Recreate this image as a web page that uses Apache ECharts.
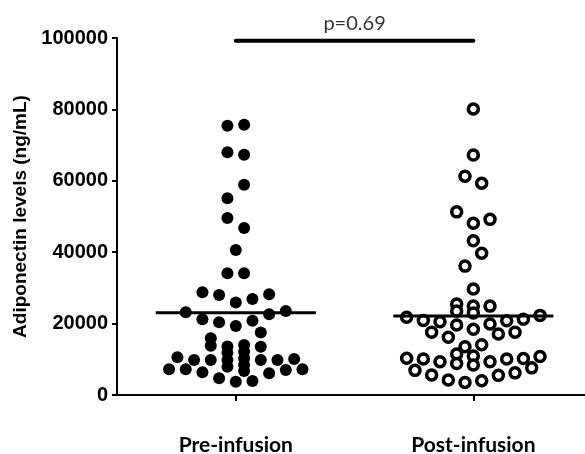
<!DOCTYPE html>
<html lang="en">
<head>
<meta charset="UTF-8">
<title>Adiponectin</title>
<script src="https://cdn.jsdelivr.net/npm/echarts@6/dist/echarts.min.js"></script>
<style>
  html, body { margin: 0; padding: 0; background: #fff; }
  #main { width: 585px; height: 454px; }
</style>
</head>
<body>
<div id="main"></div>
<script>
// groups on the x axis (1 = Pre, 2 = Post)
var categories = ['Pre-infusion', 'Post-infusion'];

// adiponectin levels, ng/mL
var preValues = [75400, 75700, 68000, 67300, 58900, 55100, 49600, 46800, 40600, 34100, 34100,
    28800, 28000, 25900, 26900, 28200, 23200, 22600, 23500, 21200, 20400, 19300, 20800,
    17500, 15900, 13800, 13600, 11800, 9800, 7900, 14000, 12100, 10300, 8400, 6700,
    13500, 9800, 9800, 9800, 10600, 9800, 10100, 7200, 7200, 6400, 6100, 7000, 7200,
    4700, 3700, 3900];
// beeswarm lane of each dot (half dot steps left/right of the group centre)
var preLanes = [-1, 1, -1, 1, 1, -1, -1, 1, 0, -1, 1,
    -4, -2, 0, 2, 4, -6, 4, 6, -4, -2, 0, 2,
    3, -3, -3, -1, -1, -1, -1, 1, 1, 1, 1, 1,
    3, 3, -3, -5, -7, 5, 7, -8, -6, -4, 4, 6, 8,
    -2, 0, 2];

var postValues = [80100, 67200, 61300, 59300, 51300, 48100, 49200, 43200, 39700, 36100, 29700,
    25500, 23500, 24900, 23000, 24900, 21800, 20900, 20500, 19600, 18400, 19900, 20800,
    21200, 22300, 17600, 16200, 17100, 17600, 13500, 14100, 11500, 10900,
    10300, 10100, 9300, 8800, 8400, 9300, 10100, 10200, 10800,
    6900, 5600, 4200, 3500, 4000, 5500, 6200, 7600];
var postLanes = [0, 0, -1, 1, -2, 0, 2, 0, 1, -1, 0,
    -2, -2, 0, 0, 2, -8, -6, -4, -2, 0, 2, 4,
    6, 8, -5, -3, 3, 5, -1, 1, -2, 0,
    -8, -6, -4, -2, 0, 2, 4, 6, 8,
    -7, -5, -3, -1, 1, 3, 5, 7];

var groupMeans = [23050, 22100];
var pLabel = 'p=0.69';
var pBarLevel = 99200;

var laneStep = 0.0351;
var meanHalfWidth = 0.337;

function swarm(center, values, lanes) {
    return values.map(function (v, i) {
        return [center + lanes[i] * laneStep, v];
    });
}

var myChart = echarts.init(document.getElementById('main'));

var option = {
    animation: false,
    grid: { left: 117, right: 0, top: 38, bottom: 59, outerBoundsMode: 'none' },
    xAxis: {
        type: 'value',
        min: 0.5,
        max: 2.47,
        splitLine: { show: false },
        axisLine: { lineStyle: { color: '#000', width: 2 } },
        axisTick: { show: true, length: 6, customValues: [1, 2], lineStyle: { color: '#000', width: 2 } },
        axisLabel: {
            customValues: [1, 2],
            margin: 40,
            color: '#000',
            fontFamily: 'Lato',
            fontWeight: 'bold',
            fontSize: 21,
            formatter: function (v) { return categories[Math.round(v) - 1]; }
        }
    },
    yAxis: {
        type: 'value',
        min: 0,
        max: 100000,
        interval: 20000,
        name: 'Adiponectin levels (ng/mL)',
        nameLocation: 'middle',
        nameGap: 86,
        nameTextStyle: { color: '#000', fontFamily: 'Liberation Sans', fontWeight: 'bold', fontSize: 19 },
        splitLine: { show: false },
        axisLine: { show: true, lineStyle: { color: '#000', width: 2 } },
        axisTick: { show: true, length: 5, lineStyle: { color: '#000', width: 2 } },
        axisLabel: {
            margin: 9,
            color: '#000',
            fontFamily: 'Liberation Sans',
            fontWeight: 'bold',
            fontSize: 20,
            formatter: function (v) { return String(v); }
        }
    },
    series: [
        {
            type: 'scatter',
            symbol: 'circle',
            symbolSize: 12,
            itemStyle: { color: '#000', opacity: 1 },
            data: swarm(1, preValues, preLanes)
        },
        {
            type: 'scatter',
            symbol: 'circle',
            symbolSize: 10,
            itemStyle: { color: '#fff', borderColor: '#000', borderWidth: 3.5, opacity: 1 },
            data: swarm(2, postValues, postLanes)
        },
        {
            type: 'line',
            symbol: 'none',
            z: 5,
            lineStyle: { color: '#000', width: 3 },
            data: [[1 - meanHalfWidth, groupMeans[0]], [1 + meanHalfWidth, groupMeans[0]]]
        },
        {
            type: 'line',
            symbol: 'none',
            z: 5,
            lineStyle: { color: '#000', width: 3 },
            data: [[2 - meanHalfWidth, groupMeans[1]], [2 + meanHalfWidth, groupMeans[1]]]
        },
        {
            // significance bar between the two groups
            type: 'line',
            symbol: 'none',
            lineStyle: { color: '#000', width: 4, cap: 'round' },
            data: [[1, pBarLevel], [2, pBarLevel]]
        },
        {
            type: 'scatter',
            symbolSize: 0,
            label: {
                show: true,
                position: 'top',
                distance: 7,
                formatter: pLabel,
                color: '#000',
                fontFamily: 'Lato',
                fontSize: 20
            },
            data: [[1.5, pBarLevel]]
        }
    ]
};

myChart.setOption(option);
</script>
</body>
</html>
